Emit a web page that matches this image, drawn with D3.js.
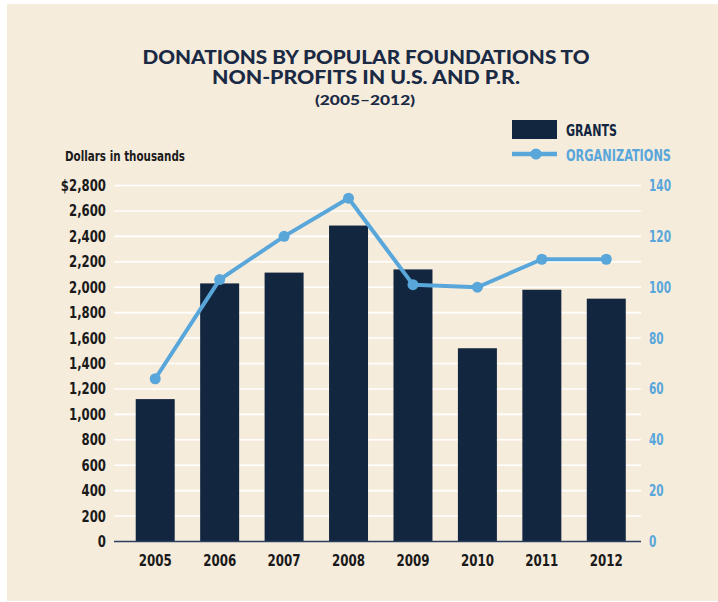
<!DOCTYPE html>
<html>
<head>
<meta charset="utf-8">
<script src="https://cdn.jsdelivr.net/npm/d3@7/dist/d3.min.js"></script>
<style>
  html, body { margin: 0; padding: 0; background: #ffffff; }
  svg { display: block; }
  .cond { font-family: "Liberation Sans Narrow", "DejaVu Sans Condensed", "Roboto", sans-serif; }
</style>
</head>
<body>
<svg id="chart" width="718" height="602"></svg>
<script>
const years = ["2005", "2006", "2007", "2008", "2009", "2010", "2011", "2012"];
const grants = [1120, 2030, 2115, 2485, 2140, 1520, 1980, 1910];
const organizations = [64, 103, 120, 135, 101, 100, 111, 111];
const leftTicks = [0, 200, 400, 600, 800, 1000, 1200, 1400, 1600, 1800, 2000, 2200, 2400, 2600, 2800];
const rightTicks = [0, 20, 40, 60, 80, 100, 120, 140];
const titleLines = ["DONATIONS BY POPULAR FOUNDATIONS TO", "NON-PROFITS IN U.S. AND P.R."];
const subtitle = "(2005–2012)";
const yAxisTitle = "Dollars in thousands";
const legendLabels = ["GRANTS", "ORGANIZATIONS"];

const navy = "#12263f";
const blue = "#58a6da";
const cream = "#f6ecdc";

// squeeze a text element horizontally to a given width
function squeeze(sel, k) {
  sel.each(function () {
    const w = this.getComputedTextLength();
    d3.select(this).attr("textLength", w * k).attr("lengthAdjust", "spacingAndGlyphs");
  });
}
function fitTo(sel, target) {
  const w = sel.node().getComputedTextLength();
  sel.attr("textLength", target).attr("lengthAdjust", "spacingAndGlyphs");
  return target / w;
}

const svg = d3.select("#chart");
svg.append("rect").attr("x", 7).attr("y", 4).attr("width", 711).attr("height", 597).attr("fill", cream);

const plotL = 114, plotR = 641, plotT = 185.5, plotB = 541.5;

const x = d3.scaleBand().domain(years).range([123, 638.5]).paddingInner(0.395).paddingOuter(0.1975);
const yL = d3.scaleLinear().domain([0, 2800]).range([plotB, plotT]);
const yR = d3.scaleLinear().domain([0, 140]).range([plotB, plotT]);

// gridlines
svg.append("g").selectAll("line").data(leftTicks.filter(d => d > 0)).join("line")
  .attr("x1", plotL).attr("x2", plotR)
  .attr("y1", d => yL(d)).attr("y2", d => yL(d))
  .attr("stroke", "#ffffff").attr("stroke-width", 1.6);

// bars
svg.append("g").selectAll("rect").data(years).join("rect")
  .attr("x", d => x(d)).attr("width", x.bandwidth())
  .attr("y", (d, i) => yL(grants[i])).attr("height", (d, i) => plotB - yL(grants[i]))
  .attr("fill", navy);

// zero line
svg.append("line").attr("x1", plotL).attr("x2", plotR).attr("y1", plotB).attr("y2", plotB)
  .attr("stroke", "#2b3f5e").attr("stroke-width", 1.5);

// left axis
const leftAxis = d3.axisLeft(yL).tickValues(leftTicks).tickSize(0).tickPadding(8)
  .tickFormat(d => d === 2800 ? "$" + d3.format(",")(d) : d3.format(",")(d));
const gL = svg.append("g").attr("transform", `translate(${plotL},0)`).call(leftAxis);
gL.select(".domain").remove();
gL.selectAll("text").attr("class", "cond").attr("font-size", 15.5).attr("font-weight", "bold").attr("fill", "#1a1a1a");
{
  const ref = gL.selectAll("text").filter(d => d === 2600);
  const k = 37 / ref.node().getComputedTextLength();
  squeeze(gL.selectAll("text"), k);
}

// right axis
const rightAxis = d3.axisRight(yR).tickValues(rightTicks).tickSize(0).tickPadding(8);
const gR = svg.append("g").attr("transform", `translate(${plotR},0)`).call(rightAxis);
gR.select(".domain").remove();
gR.selectAll("text").attr("class", "cond").attr("font-size", 15.5).attr("font-weight", "bold").attr("fill", blue);
{
  const ref = gR.selectAll("text").filter(d => d === 140);
  const k = 22 / ref.node().getComputedTextLength();
  squeeze(gR.selectAll("text"), k);
}

// bottom axis
const bottomAxis = d3.axisBottom(x).tickSize(0).tickPadding(13);
const gB = svg.append("g").attr("transform", `translate(0,${plotB})`).call(bottomAxis);
gB.select(".domain").remove();
gB.selectAll("text").attr("class", "cond").attr("font-size", 15.5).attr("font-weight", "bold").attr("fill", "#1a1a1a");
{
  const k = 33 / gB.select("text").node().getComputedTextLength();
  squeeze(gB.selectAll("text"), k);
}

// line
const line = d3.line().x((d, i) => x(years[i]) + x.bandwidth() / 2).y(d => yR(d));
svg.append("path").datum(organizations).attr("d", line)
  .attr("fill", "none").attr("stroke", blue).attr("stroke-width", 4).attr("stroke-linejoin", "round");
svg.append("g").selectAll("circle").data(organizations).join("circle")
  .attr("cx", (d, i) => x(years[i]) + x.bandwidth() / 2).attr("cy", d => yR(d)).attr("r", 5.5)
  .attr("fill", blue);

// title
const tFont = "Lato, 'Open Sans', sans-serif";
const t1 = svg.append("text").attr("x", 366).attr("y", 63.5).attr("text-anchor", "middle")
  .attr("font-family", tFont).attr("font-weight", 900).attr("font-size", 18.5)
  .attr("fill", "#1b2a44").text(titleLines[0]);
fitTo(t1, 447);
const t2 = svg.append("text").attr("x", 366).attr("y", 84).attr("text-anchor", "middle")
  .attr("font-family", tFont).attr("font-weight", 900).attr("font-size", 18.5)
  .attr("fill", "#1b2a44").text(titleLines[1]);
fitTo(t2, 308);
const t3 = svg.append("text").attr("x", 365).attr("y", 104.5).attr("text-anchor", "middle")
  .attr("font-family", tFont).attr("font-weight", 900).attr("font-size", 14)
  .attr("fill", "#1b2a44").text(subtitle);
fitTo(t3, 100);

// y-axis title
const yt = svg.append("text").attr("class", "cond").attr("x", 65).attr("y", 161)
  .attr("font-size", 14.5).attr("font-weight", "bold").attr("fill", "#1a1a1a").text(yAxisTitle);
fitTo(yt, 120);

// legend
svg.append("rect").attr("x", 512).attr("y", 120).attr("width", 45).attr("height", 19).attr("fill", navy);
const lg1 = svg.append("text").attr("class", "cond").attr("x", 566).attr("y", 136)
  .attr("font-size", 16.5).attr("font-weight", "bold").attr("fill", navy).text(legendLabels[0]);
fitTo(lg1, 51);
svg.append("line").attr("x1", 512).attr("x2", 557).attr("y1", 154).attr("y2", 154)
  .attr("stroke", blue).attr("stroke-width", 4.5);
svg.append("circle").attr("cx", 536).attr("cy", 154).attr("r", 5.5).attr("fill", blue);
const lg2 = svg.append("text").attr("class", "cond").attr("x", 566).attr("y", 161)
  .attr("font-size", 16.5).attr("font-weight", "bold").attr("fill", blue).text(legendLabels[1]);
fitTo(lg2, 105);
</script>
</body>
</html>
